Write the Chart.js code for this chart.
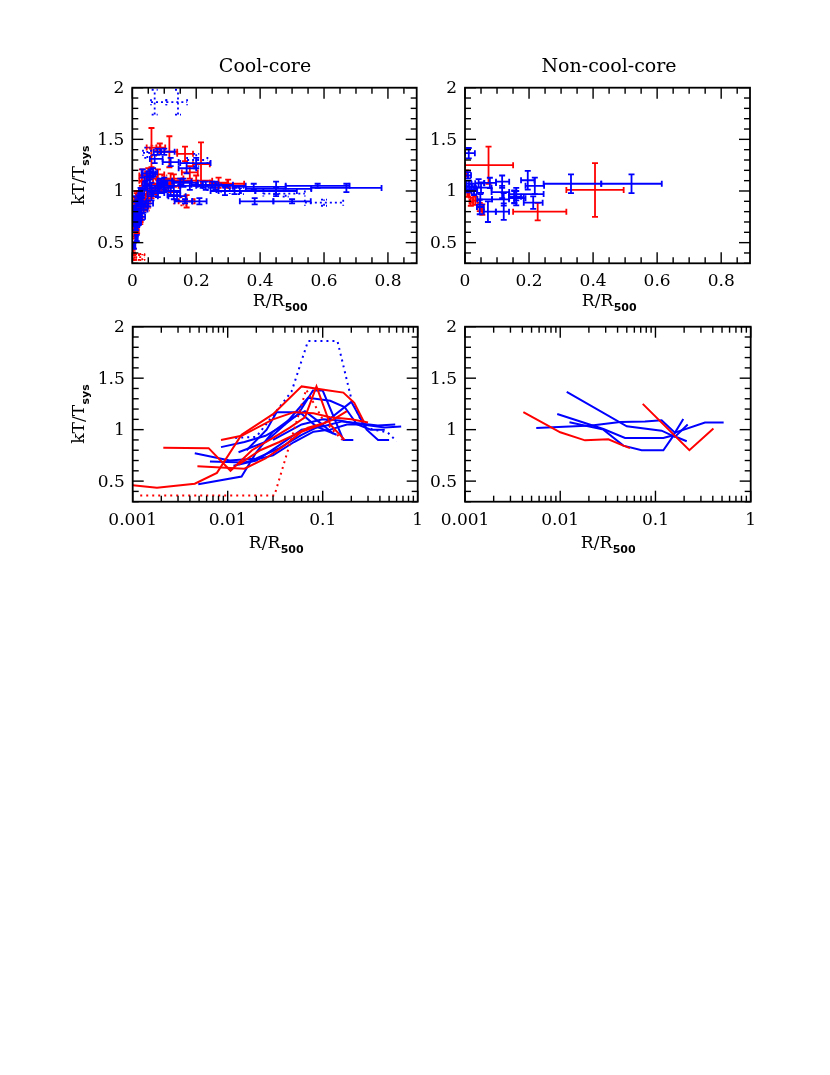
<!DOCTYPE html>
<html><head><meta charset="utf-8">
<script src="https://cdn.jsdelivr.net/npm/chart.js@4.4.1/dist/chart.umd.min.js"></script>
<style>
html,body{margin:0;padding:0;background:#fff;}
body{width:830px;height:1075px;position:relative;overflow:hidden;}
canvas{position:absolute;}
</style></head>
<body>
<canvas id="cTL"></canvas><canvas id="cTR"></canvas><canvas id="cBL"></canvas><canvas id="cBR"></canvas>
<script>
// ---------------- data ----------------
// tick labels
const yTickVals = [0.5, 1, 1.5, 2];
const yTickText = ['0.5', '1', '1.5', '2'];
const xLinTickVals = [0, 0.2, 0.4, 0.6, 0.8];
const xLinTickText = ['0', '0.2', '0.4', '0.6', '0.8'];
const xLogTickVals = [0.001, 0.01, 0.1, 1];
const xLogTickText = ['0.001', '0.01', '0.1', '1'];
const panelTitles = ['Cool-core', 'Non-cool-core'];

// Cool-core, red profiles: radius R/R500, kT/Tsys, error
const ccRed1R = [0.001,0.0018,0.0045,0.0077,0.014,0.03,0.06,0.116,0.165,0.215,0.27];
const ccRed1T = [0.46,0.435,0.475,0.58,0.95,1.15,1.42,1.38,1.36,1.26,1.08];
const ccRed1E = [0.03,0.03,0.03,0.04,0.05,0.06,0.19,0.15,0.07,0.21,0.05];
const ccRed2R = [0.0021,0.0063,0.0107,0.018,0.03,0.045,0.065,0.086,0.12,0.17];
const ccRed2T = [0.825,0.82,0.6,0.8,0.92,1.02,1.12,1.42,1.05,0.9];
const ccRed2E = [0.03,0.03,0.04,0.04,0.04,0.05,0.05,0.04,0.06,0.06];
const ccRed3R = [0.0048,0.015,0.025,0.04,0.06,0.09,0.13,0.18];
const ccRed3T = [0.645,0.62,0.72,0.85,0.98,1.04,1.1,1.18];
const ccRed3E = [0.03,0.03,0.04,0.04,0.05,0.05,0.06,0.06];
const ccRed4R = [0.0085,0.014,0.03,0.05,0.08,0.12,0.2,0.3];
const ccRed4T = [0.9,0.94,1.1,1.17,1.16,1.12,1.1,1.07];
const ccRed4E = [0.04,0.04,0.05,0.05,0.05,0.05,0.05,0.04];
const ccRed5R = [0.013,0.022,0.035,0.05,0.07,0.1];
const ccRed5T = [0.66,0.8,0.88,0.95,1.02,1.06];
const ccRed5E = [0.04,0.04,0.04,0.05,0.05,0.05];
const ccRedDotR = [0.0012,0.003,0.006,0.012,0.031,0.045,0.067,0.1,0.16];
const ccRedDotT = [0.36,0.36,0.36,0.36,0.36,0.86,1.39,1.1,0.9];
const ccRedDotE = [0.03,0.03,0.03,0.03,0.03,0.05,0.05,0.05,0.04];

// Cool-core, blue profiles
const ccBlue1R = [0.0085,0.015,0.025,0.04,0.055,0.079,0.1,0.165,0.21];
const ccBlue1T = [0.83,0.88,0.94,1.05,1.15,1.38,1.38,0.9,0.9];
const ccBlue1E = [0.03,0.03,0.04,0.04,0.04,0.03,0.03,0.02,0.03];
const ccBlue2R = [0.0045,0.0105,0.02,0.035,0.06,0.1,0.2,0.29,0.383,0.5];
const ccBlue2T = [0.77,0.7,0.72,0.82,0.95,1.05,1.27,1.0,0.9,0.9];
const ccBlue2E = [0.03,0.03,0.03,0.03,0.04,0.04,0.05,0.04,0.03,0.02];
const ccBlue3R = [0.0065,0.015,0.03,0.05,0.08,0.12,0.18,0.26,0.45,0.67];
const ccBlue3T = [0.69,0.68,0.75,0.88,0.98,1.0,1.05,1.05,1.02,1.03];
const ccBlue3E = [0.03,0.03,0.03,0.03,0.04,0.04,0.04,0.04,0.07,0.04];
const ccBlue4R = [0.0115,0.02,0.035,0.06,0.1,0.16,0.25,0.38,0.58];
const ccBlue4T = [0.65,0.7,0.85,1.0,1.03,1.08,1.06,1.04,1.05];
const ccBlue4E = [0.03,0.03,0.03,0.03,0.04,0.04,0.03,0.03,0.02];
const ccBlue5R = [0.0049,0.014,0.02,0.03,0.045,0.065,0.09,0.13];
const ccBlue5T = [0.47,0.545,0.78,0.98,1.1,1.18,1.08,0.96];
const ccBlue5E = [0.03,0.03,0.03,0.04,0.04,0.04,0.04,0.04];
const ccBlue6R = [0.0158,0.0257,0.0327,0.0574,0.086,0.14];
const ccBlue6T = [0.8,1.0,1.17,1.17,1.03,0.95];
const ccBlue6E = [0.03,0.03,0.04,0.04,0.04,0.04];
const ccBlue7R = [0.013,0.025,0.04,0.07,0.12,0.17,0.23];
const ccBlue7T = [0.78,0.88,1.05,1.31,1.28,1.22,1.05];
const ccBlue7E = [0.03,0.03,0.04,0.04,0.04,0.05,0.04];
const ccBlue8R = [0.03,0.06,0.1,0.15,0.22,0.32,0.45];
const ccBlue8T = [0.9,1.05,1.1,1.09,1.06,1.0,1.0];
const ccBlue8E = [0.03,0.03,0.03,0.03,0.03,0.03,0.03];
const ccBlueDotR = [0.012,0.02,0.047,0.07,0.143,0.2,0.27,0.34,0.48,0.6];
const ccBlueDotT = [0.92,0.93,1.37,1.86,1.86,1.3,1.03,1.0,0.975,0.887];
const ccBlueDotE = [0.03,0.03,0.05,0.12,0.12,0.06,0.04,0.03,0.03,0.03];

// Non-cool-core profiles
const ncRed1R = [0.0041,0.01,0.0182,0.032,0.046,0.054];
const ncRed1T = [1.17,0.974,0.896,0.906,0.845,0.82];
const ncRed1E = [0.03,0.03,0.04,0.04,0.04,0.05];
const ncRed2R = [0.0735,0.227,0.406];
const ncRed2T = [1.25,0.8,1.01];
const ncRed2E = [0.18,0.085,0.26];
const ncBlue1R = [0.0117,0.05,0.116,0.16,0.218];
const ncBlue1T = [1.366,1.032,0.99,0.93,1.05];
const ncBlue1E = [0.05,0.05,0.06,0.07,0.08];
const ncBlue2R = [0.0056,0.0214,0.0425,0.0776,0.116,0.16,0.331,0.52];
const ncBlue2T = [1.016,1.04,1.075,1.078,1.09,0.97,1.07,1.07];
const ncBlue2E = [0.03,0.03,0.04,0.05,0.06,0.06,0.09,0.09];
const ncBlue3R = [0.0093,0.0284,0.0479,0.121,0.154,0.196];
const ncBlue3T = [1.152,1.006,0.919,0.919,0.945,1.104];
const ncBlue3E = [0.03,0.04,0.05,0.06,0.06,0.09];
const ncBlue4R = [0.0125,0.0284,0.046,0.0716,0.121,0.154,0.213];
const ncBlue4T = [1.071,1.0,0.845,0.8,0.8,0.94,0.887];
const ncBlue4E = [0.03,0.04,0.07,0.1,0.08,0.06,0.06];

// ---------------- styling / assembly ----------------
const RED = '#ff0000', BLUE = '#0000ff';
const SERIF = '"DejaVu Serif", "Liberation Serif", serif';

const coolProfiles = [
  [ccRed1R, ccRed1T, ccRed1E, RED, false],
  [ccRed2R, ccRed2T, ccRed2E, RED, false],
  [ccRed3R, ccRed3T, ccRed3E, RED, false],
  [ccRed4R, ccRed4T, ccRed4E, RED, false],
  [ccRed5R, ccRed5T, ccRed5E, RED, false],
  [ccRedDotR, ccRedDotT, ccRedDotE, RED, true],
  [ccBlue1R, ccBlue1T, ccBlue1E, BLUE, false],
  [ccBlue2R, ccBlue2T, ccBlue2E, BLUE, false],
  [ccBlue3R, ccBlue3T, ccBlue3E, BLUE, false],
  [ccBlue4R, ccBlue4T, ccBlue4E, BLUE, false],
  [ccBlue5R, ccBlue5T, ccBlue5E, BLUE, false],
  [ccBlue6R, ccBlue6T, ccBlue6E, BLUE, false],
  [ccBlue7R, ccBlue7T, ccBlue7E, BLUE, false],
  [ccBlue8R, ccBlue8T, ccBlue8E, BLUE, false],
  [ccBlueDotR, ccBlueDotT, ccBlueDotE, BLUE, true]
];
const nonCoolProfiles = [
  [ncRed1R, ncRed1T, ncRed1E, RED, false],
  [ncRed2R, ncRed2T, ncRed2E, RED, false],
  [ncBlue1R, ncBlue1T, ncBlue1E, BLUE, false],
  [ncBlue2R, ncBlue2T, ncBlue2E, BLUE, false],
  [ncBlue3R, ncBlue3T, ncBlue3E, BLUE, false],
  [ncBlue4R, ncBlue4T, ncBlue4E, BLUE, false]
];

// annular bins: edges halfway between neighbouring radii
function binned(r, t, e) {
  const n = r.length, pts = [];
  for (let i = 0; i < n; i++) {
    const lo = i === 0 ? Math.max(0, 2 * r[0] - (r[0] + r[1]) / 2) : (r[i - 1] + r[i]) / 2;
    const hi = i === n - 1 ? 2 * r[i] - (r[i - 1] + r[i]) / 2 : (r[i] + r[i + 1]) / 2;
    pts.push({x: r[i], y: t[i], xl: lo, xh: hi, yl: t[i] - e[i], yh: t[i] + e[i]});
  }
  return pts;
}
function errDatasets(profiles) {
  return profiles.map(([r, t, e, c, dot]) => ({
    type: 'scatter', data: binned(r, t, e), borderColor: c, backgroundColor: c,
    pointRadius: 0, showLine: false, errbars: true, dotted: dot
  }));
}
function lineDatasets(profiles) {
  return profiles.map(([r, t, e, c, dot]) => ({
    type: 'line', data: r.map((v, i) => ({x: v, y: t[i]})), borderColor: c,
    borderWidth: 2, pointRadius: 0, tension: 0, fill: false,
    borderDash: dot ? [2, 4] : []
  }));
}

function line(ctx, x1, y1, x2, y2) { ctx.beginPath(); ctx.moveTo(x1, y1); ctx.lineTo(x2, y2); ctx.stroke(); }

const MAINFONT = '17px ' + SERIF;
const SUBFONT = 'bold 11px "DejaVu Sans", sans-serif';
function subText(ctx, main, sub, cx, base) {
  ctx.font = MAINFONT;
  const w1 = ctx.measureText(main).width;
  ctx.font = SUBFONT;
  const w2 = ctx.measureText(sub).width;
  const x0 = cx - (w1 + w2) / 2;
  ctx.textAlign = 'left'; ctx.textBaseline = 'alphabetic';
  ctx.font = MAINFONT; ctx.fillText(main, x0, base);
  ctx.font = SUBFONT; ctx.fillText(sub, x0 + w1 + 0.5, base + 5);
}

function makePanel(id, box, area, logX, datasets, deco) {
  const cv = document.getElementById(id);
  cv.width = box[2]; cv.height = box[3];
  cv.style.left = box[0] + 'px'; cv.style.top = box[1] + 'px';
  const pad = {left: area[0] - box[0], top: area[1] - box[1],
               right: box[0] + box[2] - area[2], bottom: box[1] + box[3] - area[3]};
  const deco_plugin = {
    id: 'deco' + id,
    afterDatasetsDraw(chart) {
      const ctx = chart.ctx, ca = chart.chartArea, xs = chart.scales.x, ys = chart.scales.y;
      // error bars
      ctx.save();
      ctx.beginPath(); ctx.rect(ca.left, ca.top, ca.right - ca.left, ca.bottom - ca.top); ctx.clip();
      chart.data.datasets.forEach(ds => {
        if (!ds.errbars) return;
        ctx.strokeStyle = ds.borderColor; ctx.lineWidth = 1.8;
        ctx.setLineDash(ds.dotted ? [2, 3] : []);
        ds.data.forEach(p => {
          const px = xs.getPixelForValue(p.x), py = ys.getPixelForValue(p.y);
          const x1 = xs.getPixelForValue(p.xl), x2 = xs.getPixelForValue(p.xh);
          const y1 = ys.getPixelForValue(p.yl), y2 = ys.getPixelForValue(p.yh);
          line(ctx, x1, py, x2, py); line(ctx, px, y1, px, y2);
          line(ctx, x1, py - 3, x1, py + 3); line(ctx, x2, py - 3, x2, py + 3);
          line(ctx, px - 3, y1, px + 3, y1); line(ctx, px - 3, y2, px + 3, y2);
        });
      });
      ctx.restore();
    },
    afterDraw(chart) {
      const ctx = chart.ctx, ca = chart.chartArea, xs = chart.scales.x, ys = chart.scales.y;
      const l = ca.left, r = ca.right, t = ca.top, b = ca.bottom;
      ctx.save();
      ctx.strokeStyle = '#000'; ctx.fillStyle = '#000'; ctx.lineWidth = 1.4; ctx.setLineDash([]);
      for (let i = 3; i <= 20; i++) {
        const y = ys.getPixelForValue(i / 10), L = i % 5 === 0 ? 11 : 6;
        line(ctx, l, y, l + L, y); line(ctx, r, y, r - L, y);
      }
      if (logX) {
        for (let p = -3; p <= 0; p++) for (let k = 1; k <= 9; k++) {
          const v = k * Math.pow(10, p); if (v > 1.0001) break;
          const x = xs.getPixelForValue(v), L = k === 1 ? 11 : 6;
          line(ctx, x, b, x, b - L); line(ctx, x, t, x, t + L);
        }
      } else {
        for (let i = 0; i <= 17; i++) {
          const x = xs.getPixelForValue(i * 0.05), L = i % 4 === 0 ? 11 : 6;
          line(ctx, x, b, x, b - L); line(ctx, x, t, x, t + L);
        }
      }
      ctx.lineWidth = 1.8;
      ctx.strokeRect(l, t, r - l, b - t);
      // tick labels
      ctx.font = MAINFONT;
      ctx.textAlign = 'right'; ctx.textBaseline = 'middle';
      yTickVals.forEach((v, i) => ctx.fillText(yTickText[i], l - 8, ys.getPixelForValue(v) + 1));
      ctx.textAlign = 'center';
      const xv = logX ? xLogTickVals : xLinTickVals, xt = logX ? xLogTickText : xLinTickText;
      xv.forEach((v, i) => ctx.fillText(xt[i], xs.getPixelForValue(v), b + 18.5));
      // axis titles
      const ox = box[0], oy = box[1];
      subText(ctx, 'R/R', '500', deco.xTitleX - ox, deco.xTitleY - oy);
      if (deco.yTitle) {
        ctx.save();
        ctx.translate(84 - ox, (t + b) / 2);
        ctx.rotate(-Math.PI / 2);
        subText(ctx, 'kT/T', 'sys', 0, 0);
        ctx.restore();
      }
      if (deco.title) {
        ctx.font = '19px ' + SERIF; ctx.textAlign = 'center'; ctx.textBaseline = 'middle';
        ctx.fillText(deco.title, deco.titleX - ox, deco.titleY - oy);
      }
      ctx.restore();
    }
  };
  return new Chart(cv, {
    data: {datasets},
    options: {
      responsive: false, animation: false, devicePixelRatio: 1,
      layout: {padding: pad},
      plugins: {legend: {display: false}, tooltip: {enabled: false}},
      scales: {
        x: logX ? {type: 'logarithmic', min: 0.001, max: 1, display: false}
                : {type: 'linear', min: 0, max: 0.89, display: false},
        y: {type: 'linear', min: 0.3, max: 2.0, display: false}
      }
    },
    plugins: [deco_plugin]
  });
}

makePanel('cTL', [0, 30, 425, 290], [132.3, 87.7, 416.7, 263.3], false, errDatasets(coolProfiles),
  {title: panelTitles[0], titleX: 265, titleY: 67, yTitle: true, xTitleX: 280, xTitleY: 306});
makePanel('cTR', [425, 30, 405, 290], [465, 87.7, 750, 263.3], false, errDatasets(nonCoolProfiles),
  {title: panelTitles[1], titleX: 609, titleY: 67, yTitle: false, xTitleX: 609, xTitleY: 306});
makePanel('cBL', [0, 320, 425, 245], [132.7, 326.7, 417.7, 501.7], true, lineDatasets(coolProfiles),
  {title: null, yTitle: true, xTitleX: 276, xTitleY: 548});
makePanel('cBR', [425, 320, 405, 245], [465, 326.7, 750.7, 501.7], true, lineDatasets(nonCoolProfiles),
  {title: null, yTitle: false, xTitleX: 608, xTitleY: 548});
</script>
</body></html>
